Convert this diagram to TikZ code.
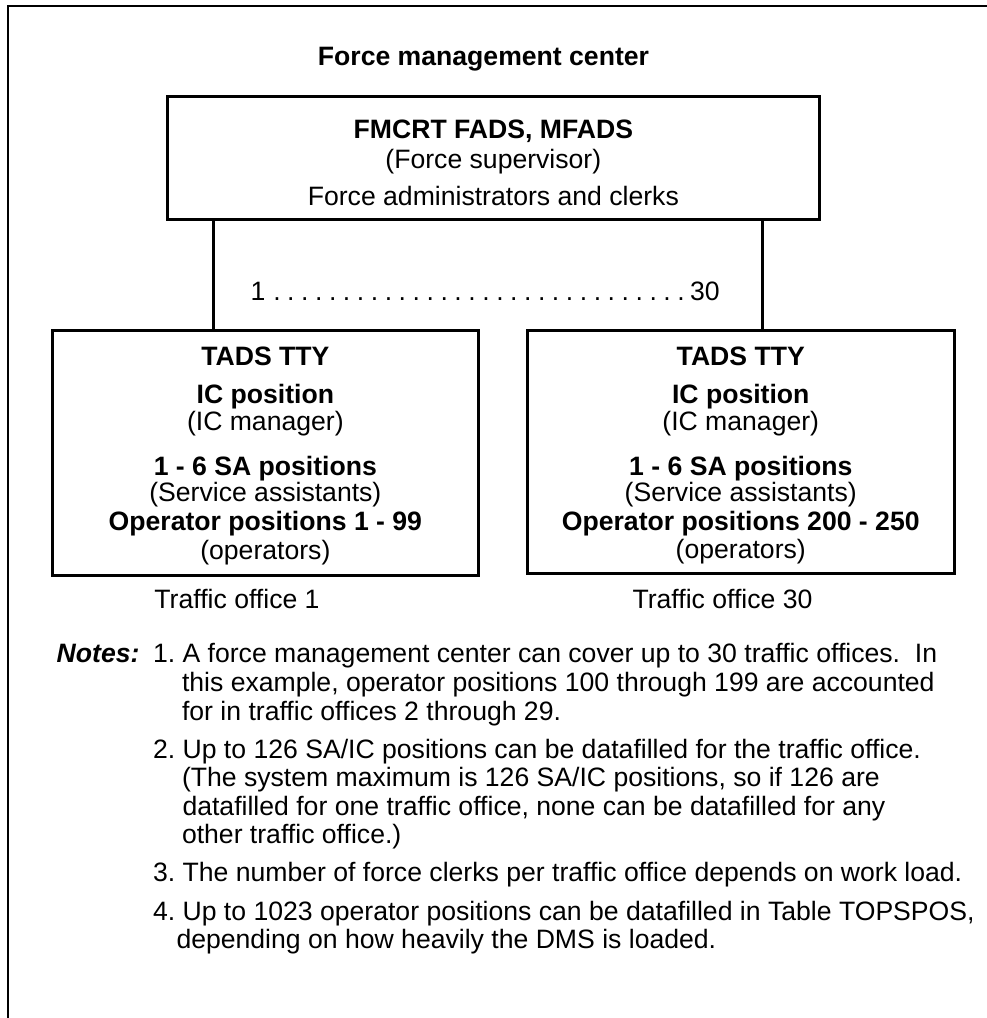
\documentclass[tikz,border=0pt]{standalone}
\usepackage{fontspec}
\setmainfont{Liberation Sans}
\newcommand{\dsize}{\fontsize{26.6}{31}\selectfont\frenchspacing}
\tikzset{
  txt/.style={inner sep=0pt, outer sep=0pt, font=\dsize, anchor=base},
  bld/.style={txt, font=\dsize\bfseries},
  nl/.style={txt, anchor=base west},
  box/.style={draw, line width=3pt, inner sep=0pt, rectangle},
  link/.style={line width=3pt},
  frameline/.style={line width=2.3pt}
}
\begin{document}
\begin{tikzpicture}[x=1pt,y=-1pt]
\useasboundingbox (0,0) rectangle (986,1018);

% outer frame (top and left only)
\coordinate (ftr) at (992,6);
\coordinate (ftl) at (8.3,6);
\coordinate (fbl) at (8.3,1024);
\draw[frameline] (ftr) -- (ftl) -- (fbl);

% title
\node[bld] (title) at (483.5,65) {Force management center};

% top box
\node[box, minimum width=651.3pt, minimum height=122.3pt] (fmc) at (493.35,157.85) {};
\node[bld] (fmcrt) at (493.35,138.5) {FMCRT FADS, MFADS};
\node[txt] (sup) at (493.35,168.5) {(Force supervisor)};
\node[txt] (adm) at (493.35,205) {Force administrators and clerks};

% left box
\node[box, minimum width=425.3pt, minimum height=245pt] (lbox) at (265.35,452.5) {};
\node[bld] (lt1) at (265.35,365) {TADS TTY};
\node[bld] (lt2) at (265.35,403.5) {IC position};
\node[txt] (lt3) at (265.35,430) {(IC manager)};
\node[bld] (lt4) at (265.35,475) {1 - 6 SA positions};
\node[txt] (lt5) at (265.35,501.5) {(Service assistants)};
\node[bld] (lt6) at (265.35,530) {Operator positions 1 - 99};
\node[txt] (lt7) at (265.35,559) {(operators)};

% right box
\node[box, minimum width=426.5pt, minimum height=243.5pt] (rbox) at (740.75,451.75) {};
\node[bld] (rt1) at (740.75,365) {TADS TTY};
\node[bld] (rt2) at (740.75,403.5) {IC position};
\node[txt] (rt3) at (740.75,430) {(IC manager)};
\node[bld] (rt4) at (740.75,475) {1 - 6 SA positions};
\node[txt] (rt5) at (740.75,501.5) {(Service assistants)};
\node[bld] (rt6) at (740.75,530) {Operator positions 200 - 250};
\node[txt] (rt7) at (740.75,558) {(operators)};

% connectors
\coordinate (c1) at (213,0);
\coordinate (c2) at (762,0);
\draw[link] (fmc.south -| c1) -- (lbox.north -| c1);
\draw[link] (fmc.south -| c2) -- (rbox.north -| c2);

% range label
\node[nl] (range) at (250.5,300) {1\hspace{4.7pt}\hbox to 418pt{\cleaders\hbox to 13.93pt{\hss.\hss}\hfil}\hspace{2pt}30};

% office labels
\node[txt] (to1) at (237,608.5) {Traffic office 1};
\node[txt] (to30) at (722.5,608.5) {Traffic office 30};

% notes
\node[txt, anchor=base east, font=\dsize\bfseries\itshape] (notes) at (139.5,662) {Notes:};
\node[nl] (n1a) at (153,662.7) {1. A force management center can cover up to 30 traffic offices.\ \ In};
\node[nl] (n1b) at (182,691.7) {this example, operator positions 100 through 199 are accounted};
\node[nl] (n1c) at (182,720) {for in traffic offices 2 through 29.};
\node[nl] (n2a) at (153,758.3) {2. Up to 126 SA/IC positions can be datafilled for the traffic office.};
\node[nl] (n2b) at (182,786.7) {(The system maximum is 126 SA/IC positions, so if 126 are};
\node[nl] (n2c) at (182.5,815) {datafilled for one traffic office, none can be datafilled for any};
\node[nl] (n2d) at (182,843.3) {other traffic office.)};
\node[nl] (n3) at (153,881.7) {3. The number of force clerks per traffic office depends on work load.};
\node[nl] (n4a) at (153,920) {4. Up to 1023 operator positions can be datafilled in Table TOPSPOS,};
\node[nl] (n4b) at (176.5,948.3) {depending on how heavily the DMS is loaded.};
\end{tikzpicture}
\end{document}
